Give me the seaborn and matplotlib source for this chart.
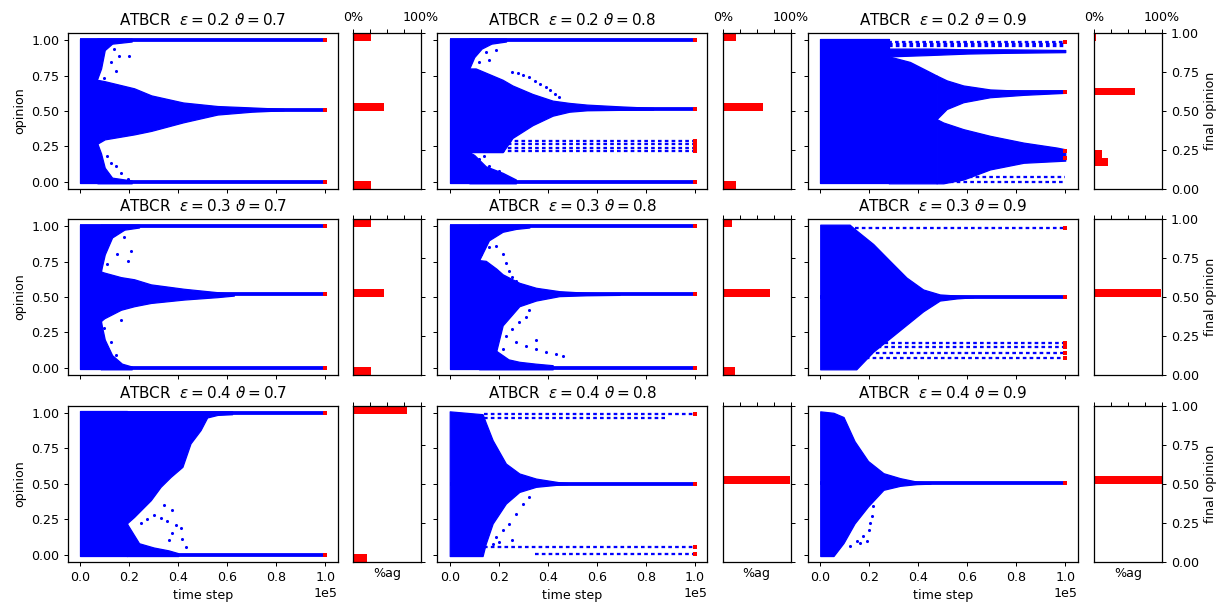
import numpy as np
import pandas as pd
import matplotlib
matplotlib.use("Agg")
import matplotlib.pyplot as plt
import seaborn as sns

# ---------------------------------------------------------------------------
# Simulation summary: opinion clouds (time in thousands of steps), final
# opinion clusters and the share of agents in each cluster.
# ---------------------------------------------------------------------------
EPSILONS = [0.2, 0.3, 0.4]
THETAS = [0.7, 0.8, 0.9]
T_END = 100          # thousand steps
TOP, BOT = 1.01, -0.01

# eps = 0.2, theta = 0.7
e2t7_final = [0.0, 0.51, 1.0]
e2t7_share = [0.27, 0.45, 0.27]
e2t7_start = [0, 0, 0]
e2t7_block = 7
e2t7_top_t = [7, 8.5, 10, 13, 21]
e2t7_top_lo = [0.73, 0.80, 0.93, 0.975, 0.99]
e2t7_mid_t = [7, 10, 22, 29, 42, 56, 70, 83]
e2t7_mid_lo = [0.27, 0.30, 0.335, 0.36, 0.42, 0.475, 0.495, 0.505]
e2t7_mid_hi = [0.72, 0.71, 0.66, 0.61, 0.56, 0.535, 0.525, 0.515]
e2t7_bot_t = [7, 8.5, 10, 13, 21]
e2t7_bot_hi = [0.27, 0.20, 0.10, 0.03, 0.01]
e2t7_dot_t = [13.8, 15.9, 20, 12.5, 14.5, 9.8, 12.5, 14.5, 11.1, 16.6, 19.3]
e2t7_dot_v = [0.936, 0.889, 0.889, 0.842, 0.783, 0.736, 0.134, 0.11, 0.18, 0.064, 0.017]

# eps = 0.2, theta = 0.8
e2t8_final = [0.0, 0.218, 0.242, 0.265, 0.289, 0.515, 1.0]
e2t8_share = [0.19, 0.005, 0.005, 0.005, 0.005, 0.60, 0.19]
e2t8_start = [0, 21, 21, 21, 21, 0, 0]
e2t8_block = 8
e2t8_top_t = [8, 10, 13, 17, 23]
e2t8_top_lo = [0.80, 0.88, 0.94, 0.975, 0.99]
e2t8_mid_t = [8, 10.6, 21.6, 25.6, 33.8, 42, 48.8, 56, 69, 83]
e2t8_mid_lo = [0.21, 0.21, 0.21, 0.31, 0.40, 0.467, 0.495, 0.505, 0.508, 0.51]
e2t8_mid_hi = [0.80, 0.80, 0.72, 0.68, 0.62, 0.573, 0.557, 0.545, 0.533, 0.522]
e2t8_arc_t = [25.6, 28, 30, 32.5, 35, 37, 39.3, 41, 43, 44.7]
e2t8_arc_v = [0.775, 0.765, 0.752, 0.739, 0.715, 0.69, 0.668, 0.645, 0.62, 0.597]
e2t8_bot_t = [8, 10, 14.7, 21.6, 27]
e2t8_bot_hi = [0.21, 0.19, 0.11, 0.064, 0.017]
e2t8_dot_t = [12, 14.7, 18.8, 16.1, 12, 12, 16.1, 20.2, 14]
e2t8_dot_v = [0.94, 0.917, 0.929, 0.858, 0.846, 0.159, 0.111, 0.076, 0.18]

# eps = 0.2, theta = 0.9
e2t9_final = [0.17, 0.22, 0.637, 0.99]
e2t9_share = [0.20, 0.117, 0.61, 0.025]
e2t9_start = [60, 60, 0, 0]
e2t9_block = 28
e2t9_ridge_t = [28, 45, 60, 75, 100]
e2t9_ridge_lo = [0.885, 0.895, 0.905, 0.91, 0.915]
e2t9_ridge_hi = [0.94, 0.94, 0.935, 0.935, 0.93]
e2t9_body_t = [28, 36.6, 44.7, 47.5]
e2t9_body_hi = [0.885, 0.846, 0.775, 0.75]
e2t9_up_t = [47.5, 51.6, 58.4, 69.3, 83, 100]
e2t9_up_lo = [0.443, 0.514, 0.562, 0.597, 0.614, 0.628]
e2t9_up_hi = [0.75, 0.716, 0.68, 0.652, 0.642, 0.645]
e2t9_low_t = [47.5, 50.2, 58.4, 69.3, 83, 96.6, 100]
e2t9_low_lo = [-0.01, -0.01, 0.017, 0.088, 0.135, 0.147, 0.15]
e2t9_low_hi = [0.443, 0.419, 0.372, 0.325, 0.277, 0.242, 0.23]
e2t9_stray_v = [0.975, 0.955, 0.0, 0.035]
e2t9_stray_t0 = [28, 28, 50, 58]
e2t9_stray_t1 = [100, 100, 100, 100]

# eps = 0.3, theta = 0.7
e3t7_final = [0.0, 0.518, 1.0]
e3t7_share = [0.26, 0.45, 0.26]
e3t7_start = [0, 0, 0]
e3t7_block = 8.4
e3t7_top_t = [8.4, 10, 13, 18, 24]
e3t7_top_lo = [0.68, 0.80, 0.92, 0.975, 0.99]
e3t7_mid_t = [8.4, 9.8, 16.6, 22, 28.8, 42.3, 55.9, 62.7]
e3t7_mid_lo = [0.33, 0.35, 0.41, 0.435, 0.458, 0.482, 0.499, 0.51]
e3t7_mid_hi = [0.68, 0.672, 0.64, 0.625, 0.589, 0.558, 0.534, 0.522]
e3t7_bot_t = [8.4, 10, 13, 17, 21]
e3t7_bot_hi = [0.33, 0.20, 0.09, 0.03, 0.01]
e3t7_dot_t = [13.8, 17.9, 20.6, 19.3, 11.1, 15.2, 9.8, 12.5, 14.5, 16.6]
e3t7_dot_v = [0.945, 0.921, 0.827, 0.755, 0.732, 0.803, 0.28, 0.185, 0.09, 0.34]

# eps = 0.3, theta = 0.8
e3t8_final = [0.0, 0.52, 1.0]
e3t8_share = [0.18, 0.69, 0.13]
e3t8_start = [0, 0, 0]
e3t8_block = 12
e3t8_top_t = [12, 16, 21.6, 27, 32.5]
e3t8_top_lo = [0.76, 0.90, 0.96, 0.98, 0.99]
e3t8_mid_t = [12, 14.7, 19, 21.6, 28.4, 35.2, 44.7, 55.7, 69.3]
e3t8_mid_lo = [0.10, 0.10, 0.12, 0.30, 0.435, 0.475, 0.506, 0.512, 0.515]
e3t8_mid_hi = [0.76, 0.755, 0.70, 0.66, 0.60, 0.565, 0.541, 0.53, 0.522]
e3t8_bot_t = [12, 19, 24, 28.4, 35, 42]
e3t8_bot_hi = [0.10, 0.12, 0.06, 0.043, 0.03, 0.019]
e3t8_dot_t = [12.7, 16.1, 18.8, 21.6, 22.9, 24.3, 25.6, 27, 22.9, 25.6, 28.4, 31.1,
              32.5, 27, 31.1, 35.2, 39.3, 43.5, 46.1, 35.2, 21.6]
e3t8_dot_v = [0.80, 0.85, 0.86, 0.80, 0.74, 0.68, 0.64, 0.61, 0.228, 0.276, 0.323, 0.359,
              0.406, 0.18, 0.157, 0.133, 0.109, 0.097, 0.086, 0.20, 0.135]

# eps = 0.3, theta = 0.9
e3t9_final = [0.068, 0.103, 0.15, 0.174, 0.501, 0.988]
e3t9_share = [0.004, 0.004, 0.004, 0.004, 0.98, 0.004]
e3t9_start = [16, 20, 18, 18, 0, 14]
e3t9_body_t = [0, 12, 14.7, 21.6, 28.4, 35.2, 42, 48.8, 55.7, 62.5]
e3t9_body_lo = [-0.01, -0.01, -0.01, 0.114, 0.209, 0.304, 0.399, 0.475, 0.49, 0.498]
e3t9_body_hi = [1.01, 1.01, 0.97, 0.874, 0.755, 0.637, 0.553, 0.518, 0.51, 0.505]

# eps = 0.4, theta = 0.7
e4t7_final = [0.0, 1.0]
e4t7_share = [0.21, 0.79]
e4t7_start = [0, 0]
e4t7_block = 19
e4t7_top_t = [19, 22, 24.7, 28.8, 32.8, 36.9, 41.7, 45, 49.1, 51.8, 56, 62]
e4t7_top_lo = [0.22, 0.266, 0.313, 0.384, 0.478, 0.548, 0.619, 0.784, 0.878, 0.967, 0.985, 0.99]
e4t7_bot_t = [19, 24, 30, 36, 40]
e4t7_bot_hi = [0.22, 0.08, 0.05, 0.03, 0.01]
e4t7_dot_t = [34.2, 37.6, 30.1, 35.5, 38.9, 41, 41.7, 37.6, 36.2, 43, 32.8, 27.4, 24.7]
e4t7_dot_v = [0.348, 0.313, 0.28, 0.24, 0.212, 0.188, 0.111, 0.149, 0.10, 0.054, 0.26, 0.25, 0.22]

# eps = 0.4, theta = 0.8
e4t8_final = [0.007, 0.054, 0.501, 0.99]
e4t8_share = [0.003, 0.003, 0.99, 0.003]
e4t8_start = [35, 14, 0, 14]
e4t8_body_t = [0, 13.4, 14.7, 17.5, 22.9, 28.4, 35.2, 44.7, 48]
e4t8_body_lo = [-0.01, -0.01, 0.078, 0.219, 0.36, 0.442, 0.478, 0.494, 0.497]
e4t8_body_hi = [1.01, 0.99, 0.93, 0.807, 0.642, 0.572, 0.536, 0.51, 0.505]
e4t8_stray_v = [0.96]
e4t8_stray_t0 = [14]
e4t8_stray_t1 = [88]
e4t8_dot_t = [18.8, 21.6, 24.3, 27, 29.7, 32.5, 20.2, 25.6, 17.5]
e4t8_dot_v = [0.125, 0.172, 0.219, 0.289, 0.36, 0.407, 0.088, 0.10, 0.078]

# eps = 0.4, theta = 0.9
e4t9_final = [0.504]
e4t9_share = [1.0]
e4t9_start = [0]
e4t9_body_t = [0, 5.4, 9.5, 14, 19.5, 25.8, 32.6, 39.3, 45]
e4t9_body_lo = [-0.01, -0.01, 0.082, 0.22, 0.34, 0.457, 0.485, 0.497, 0.50]
e4t9_body_hi = [1.01, 1.0, 0.97, 0.80, 0.66, 0.574, 0.539, 0.515, 0.508]
e4t9_dot_t = [12.2, 14.9, 17.6, 19.7, 20.4, 21, 21.7, 19, 16.3]
e4t9_dot_v = [0.06, 0.094, 0.129, 0.176, 0.222, 0.27, 0.34, 0.094, 0.082]


def const(v, t):
    return [v] * len(t)


# Per-panel drawing recipes assembled from the arrays above.
PANELS = {
    (0, 0): dict(final=e2t7_final, share=e2t7_share, start=e2t7_start,
                 bands=[([0, e2t7_block], const(BOT, [0, 0]), const(TOP, [0, 0])),
                        (e2t7_top_t, e2t7_top_lo, const(TOP, e2t7_top_t)),
                        (e2t7_mid_t, e2t7_mid_lo, e2t7_mid_hi),
                        (e2t7_bot_t, const(BOT, e2t7_bot_t), e2t7_bot_hi)],
                 dots=(e2t7_dot_t, e2t7_dot_v)),
    (0, 1): dict(final=e2t8_final, share=e2t8_share, start=e2t8_start,
                 bands=[([0, e2t8_block], const(BOT, [0, 0]), const(TOP, [0, 0])),
                        (e2t8_top_t, e2t8_top_lo, const(TOP, e2t8_top_t)),
                        (e2t8_mid_t, e2t8_mid_lo, e2t8_mid_hi),
                        (e2t8_bot_t, const(BOT, e2t8_bot_t), e2t8_bot_hi)],
                 dots=(e2t8_dot_t + e2t8_arc_t, e2t8_dot_v + e2t8_arc_v)),
    (0, 2): dict(final=e2t9_final, share=e2t9_share, start=e2t9_start,
                 bands=[([0, e2t9_block], const(BOT, [0, 0]), const(TOP, [0, 0])),
                        (e2t9_ridge_t, e2t9_ridge_lo, e2t9_ridge_hi),
                        (e2t9_body_t, const(BOT, e2t9_body_t), e2t9_body_hi),
                        (e2t9_up_t, e2t9_up_lo, e2t9_up_hi),
                        (e2t9_low_t, e2t9_low_lo, e2t9_low_hi)],
                 stray=(e2t9_stray_v, e2t9_stray_t0, e2t9_stray_t1)),
    (1, 0): dict(final=e3t7_final, share=e3t7_share, start=e3t7_start,
                 bands=[([0, e3t7_block], const(BOT, [0, 0]), const(TOP, [0, 0])),
                        (e3t7_top_t, e3t7_top_lo, const(TOP, e3t7_top_t)),
                        (e3t7_mid_t, e3t7_mid_lo, e3t7_mid_hi),
                        (e3t7_bot_t, const(BOT, e3t7_bot_t), e3t7_bot_hi)],
                 dots=(e3t7_dot_t, e3t7_dot_v)),
    (1, 1): dict(final=e3t8_final, share=e3t8_share, start=e3t8_start,
                 bands=[([0, e3t8_block], const(BOT, [0, 0]), const(TOP, [0, 0])),
                        (e3t8_top_t, e3t8_top_lo, const(TOP, e3t8_top_t)),
                        (e3t8_mid_t, e3t8_mid_lo, e3t8_mid_hi),
                        (e3t8_bot_t, const(BOT, e3t8_bot_t), e3t8_bot_hi)],
                 dots=(e3t8_dot_t, e3t8_dot_v)),
    (1, 2): dict(final=e3t9_final, share=e3t9_share, start=e3t9_start,
                 bands=[(e3t9_body_t, e3t9_body_lo, e3t9_body_hi)]),
    (2, 0): dict(final=e4t7_final, share=e4t7_share, start=e4t7_start,
                 bands=[([0, e4t7_block], const(BOT, [0, 0]), const(TOP, [0, 0])),
                        (e4t7_top_t, e4t7_top_lo, const(TOP, e4t7_top_t)),
                        (e4t7_bot_t, const(BOT, e4t7_bot_t), e4t7_bot_hi)],
                 dots=(e4t7_dot_t, e4t7_dot_v)),
    (2, 1): dict(final=e4t8_final, share=e4t8_share, start=e4t8_start,
                 bands=[(e4t8_body_t, e4t8_body_lo, e4t8_body_hi)],
                 stray=(e4t8_stray_v, e4t8_stray_t0, e4t8_stray_t1),
                 dots=(e4t8_dot_t, e4t8_dot_v)),
    (2, 2): dict(final=e4t9_final, share=e4t9_share, start=e4t9_start,
                 bands=[(e4t9_body_t, e4t9_body_lo, e4t9_body_hi)],
                 dots=(e4t9_dot_t, e4t9_dot_v)),
}

BLUE = "#0000ff"
RED = "#ff0000"
KSTEP = 1e3
DOTTED = [(0, (1.6, 1.4))]

sns.set_style("ticks", {"axes.edgecolor": "black", "xtick.color": "black",
                        "ytick.color": "black", "text.color": "black",
                        "axes.labelcolor": "black"})
plt.rcParams["font.family"] = ["DejaVu Sans"]
plt.rcParams["mathtext.fontset"] = "dejavusans"
plt.rcParams["axes.linewidth"] = 1.0

W, H, DPI = 1229, 609, 91
fig = plt.figure(figsize=(W / DPI, H / DPI), dpi=DPI)


def rect(x0, y0, w, h):
    return [x0 / W, 1 - (y0 + h) / H, w / W, h / H]


SC_LEFT = [68, 437.5, 808]
SC_W = 269.5
HI_LEFT = [353, 722.7, 1094]
HI_W = 68
ROW_TOP = [33, 219, 405.7]
ROW_H = 156


def tk(t):
    return np.asarray(t, dtype=float) * KSTEP


def draw_scatter(ax, p):
    for v, t0, s in zip(p["final"], p["start"], p["share"]):
        if s >= 0.05:
            ax.hlines(v, t0 * KSTEP, T_END * KSTEP, color=BLUE, lw=3.0, zorder=2)
        else:
            ax.hlines(v, t0 * KSTEP, T_END * KSTEP, color=BLUE, lw=1.8,
                      linestyles=DOTTED, zorder=2)
    if "stray" in p:
        for v, t0, t1 in zip(*p["stray"]):
            ax.hlines(v, t0 * KSTEP, t1 * KSTEP, color=BLUE, lw=1.8,
                      linestyles=DOTTED, zorder=2)
    for t, lo, hi in p["bands"]:
        ax.fill_between(tk(t), lo, hi, color=BLUE, lw=1.0, edgecolor=BLUE, zorder=3)
    if "dots" in p:
        dots = pd.DataFrame({"t": tk(p["dots"][0]), "v": p["dots"][1]})
        sns.scatterplot(data=dots, x="t", y="v", ax=ax, color=BLUE,
                        s=6, linewidth=0, zorder=3)
    ends = pd.DataFrame({"t": tk(const(T_END, p["final"])), "v": p["final"]})
    sns.scatterplot(data=ends, x="t", y="v", ax=ax, color=RED,
                    marker="s", s=10, linewidth=0, zorder=5)


for r in range(3):
    for c in range(3):
        p = PANELS[(r, c)]
        ax = fig.add_axes(rect(SC_LEFT[c], ROW_TOP[r], SC_W, ROW_H))
        draw_scatter(ax, p)
        ax.set_xlim(-5 * KSTEP, 105 * KSTEP)
        ax.set_ylim(-0.05, 1.05)
        ax.set_xticks(np.arange(0, 100.1, 20) * KSTEP)
        ax.set_yticks([0, 0.25, 0.5, 0.75, 1.0])
        ax.set_title(rf"ATBCR  $\varepsilon = {EPSILONS[r]}$ $\vartheta = {THETAS[c]}$",
                     fontsize=12)
        ax.set_xlabel("")
        ax.set_ylabel("")
        if r == 2:
            ax.ticklabel_format(axis="x", style="sci", scilimits=(0, 0))
            ax.set_xlabel("time step")
        else:
            ax.tick_params(axis="x", labelbottom=False)
        if c == 0:
            ax.set_ylabel("opinion")
        else:
            ax.tick_params(axis="y", labelleft=False)

        axh = fig.add_axes(rect(HI_LEFT[c], ROW_TOP[r], HI_W, ROW_H))
        clusters = pd.DataFrame({"opinion": p["final"], "share": p["share"]})
        sns.histplot(data=clusters, y="opinion", weights="share",
                     binwidth=0.05, binrange=(0, 1),
                     ax=axh, color=RED, alpha=1, linewidth=0)
        axh.set_xlim(0, 1)
        axh.set_ylim(0, 1)
        axh.set_xticks([0, 0.25, 0.5, 0.75, 1.0])
        axh.set_xticklabels(["0%", "", "", "", "100%"])
        axh.set_yticks([0, 0.25, 0.5, 0.75, 1.0])
        axh.tick_params(axis="x", top=True, bottom=False, labeltop=(r == 0),
                        labelbottom=False)
        axh.tick_params(axis="y", left=False, right=True, labelleft=False,
                        labelright=(c == 2))
        axh.set_ylabel("")
        axh.set_xlabel("%ag" if r == 2 else "")
        if c == 2:
            axh.yaxis.set_label_position("right")
            axh.set_ylabel("final opinion")

fig.savefig("out.png", dpi=DPI)
